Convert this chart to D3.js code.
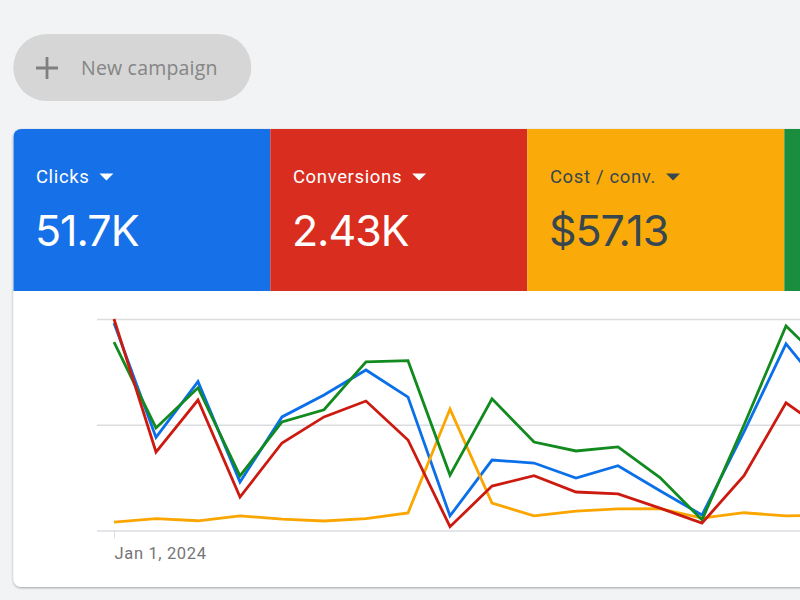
<!DOCTYPE html>
<html><head><meta charset="utf-8">
<script src="https://cdnjs.cloudflare.com/ajax/libs/d3/7.8.5/d3.min.js"></script>
<style>html,body{margin:0;padding:0;background:#f1f3f4;overflow:hidden}svg{display:block}text{font-family:Roboto,sans-serif}</style>
</head><body><svg id="c" width="800" height="600"></svg>
<script>
const dates = ["Jan 1, 2024","Jan 2, 2024","Jan 3, 2024","Jan 4, 2024","Jan 5, 2024","Jan 6, 2024","Jan 7, 2024","Jan 8, 2024","Jan 9, 2024","Jan 10, 2024","Jan 11, 2024","Jan 12, 2024","Jan 13, 2024","Jan 14, 2024","Jan 15, 2024","Jan 16, 2024","Jan 17, 2024","Jan 18, 2024"];
const clicks = [98.1,44.0,70.4,22.9,53.7,64.1,75.9,63.1,6.9,33.3,31.9,24.8,30.6,18.8,7.3,46.6,88.2,64.1];
const conversions = [100,37.1,61.7,15.8,41.4,53.7,61.2,42.8,1.8,21.0,25.9,18.2,17.3,10.6,3.5,25.9,60.4,46.2];
const costPerConv = [4.0,5.6,4.6,6.9,5.4,4.5,5.6,8.3,57.4,13.0,6.9,9.2,10.2,10.3,5.9,8.4,6.9,7.3];
const fourth = [89.1,48.5,67.5,25.8,51.3,57.1,79.7,80.3,26.2,62.3,41.8,37.6,39.5,25.0,5.0,49.9,96.7,77.3];
const yTicks = [0,50,100];
const tileLabels = ["Clicks","Conversions","Cost / conv.",""];
const tileValues = ["51.7K","2.43K","$57.13",""];
const tileColors = ["#1670e8","#d92d20","#fbab09","#1a8d3e"];
const tileInk = ["#ffffff","#ffffff","#37474f","#ffffff"];
const seriesOrder = [clicks,costPerConv,fourth,conversions];
const orderColors = ["#0a6fe8","#fba600","#118a1e","#cc1a10"];

const svg = d3.select("#c");
const defs = svg.append("defs");
const f = defs.append("filter").attr("id","sh").attr("x","-5%").attr("y","-5%").attr("width","110%").attr("height","110%");
f.append("feDropShadow").attr("dx",0).attr("dy",1).attr("stdDeviation",1.2).attr("flood-color","#3c4043").attr("flood-opacity",0.45);
defs.append("clipPath").attr("id","card").append("rect").attr("x",13.3).attr("y",129).attr("width",1040).attr("height",458).attr("rx",8);

// button
svg.append("rect").attr("x",13.3).attr("y",34).attr("width",238).attr("height",67).attr("rx",33.5).attr("fill","#d6d6d6");
svg.append("path").attr("d","M47 57V79M36 68H58").attr("stroke","#808080").attr("stroke-width",2.8).attr("fill","none");
svg.append("text").attr("x",81).attr("y",75).attr("font-size",19.5).attr("letter-spacing",0.2).attr("fill","#858585").style("font-family","'Open Sans',Roboto,sans-serif").text("New campaign");

// card
svg.append("rect").attr("x",13.3).attr("y",129).attr("width",1040).attr("height",458).attr("rx",8).attr("fill","#fff").attr("filter","url(#sh)");
const root = svg.append("g").attr("clip-path","url(#card)");

const tileX = d3.scaleBand().domain(d3.range(tileLabels.length)).range([13.3,13.3+257*4]);
const tile = root.selectAll("g.tile").data(tileLabels).join("g").attr("class","tile").attr("transform",(d,i)=>`translate(${tileX(i)},129)`);
tile.append("rect").attr("width",tileX.bandwidth()).attr("height",162).attr("fill",(d,i)=>tileColors[i]);
tile.append("text").attr("x",22.6).attr("y",53.5).attr("font-size",18.5).attr("letter-spacing",0.65).attr("fill",(d,i)=>tileInk[i]).text(d=>d)
  .each(function(d,i){
    if(!d) return;
    const w=this.getComputedTextLength();
    d3.select(this.parentNode).append("path").attr("d",`M${22.6+w+10} 44.5h14l-7 7z`).attr("fill",tileInk[i]);
  });
tile.append("text").attr("x",21.6).attr("y",116.5).attr("font-size",43).attr("letter-spacing",-1).attr("fill",(d,i)=>tileInk[i]).style("font-family","Inter,Roboto,sans-serif").text((d,i)=>tileValues[i]);

// chart
const x = d3.scalePoint().domain(dates).range([114,828]);
const y = d3.scaleLinear().domain([0,100]).range([530.5,319]);
const plot = root.append("g");
const gy = plot.append("g").attr("transform","translate(97,0)").call(d3.axisRight(y).tickValues(yTicks).tickSize(720).tickFormat(""));
gy.select(".domain").remove();
gy.selectAll("line").attr("stroke","#dadce0").attr("stroke-width",1.3);
const gx = plot.append("g").attr("transform","translate(0,530.5)").call(d3.axisBottom(x).tickValues([dates[0]]).tickSize(8).tickPadding(9));
gx.select(".domain").remove();
gx.selectAll("line").attr("stroke","#dadce0");
gx.selectAll("text").attr("text-anchor","start").attr("font-size",16.5).attr("letter-spacing",0.65).attr("fill","#757575").style("font-family","Roboto,sans-serif");

const line = d3.line().x((d,i)=>x(dates[i])).y(d=>y(d));
plot.selectAll("path.s").data(seriesOrder).join("path").attr("class","s").attr("fill","none")
  .attr("stroke",(d,i)=>orderColors[i]).attr("stroke-width",2.8).attr("stroke-linejoin","miter").attr("d",line);
</script></body></html>
